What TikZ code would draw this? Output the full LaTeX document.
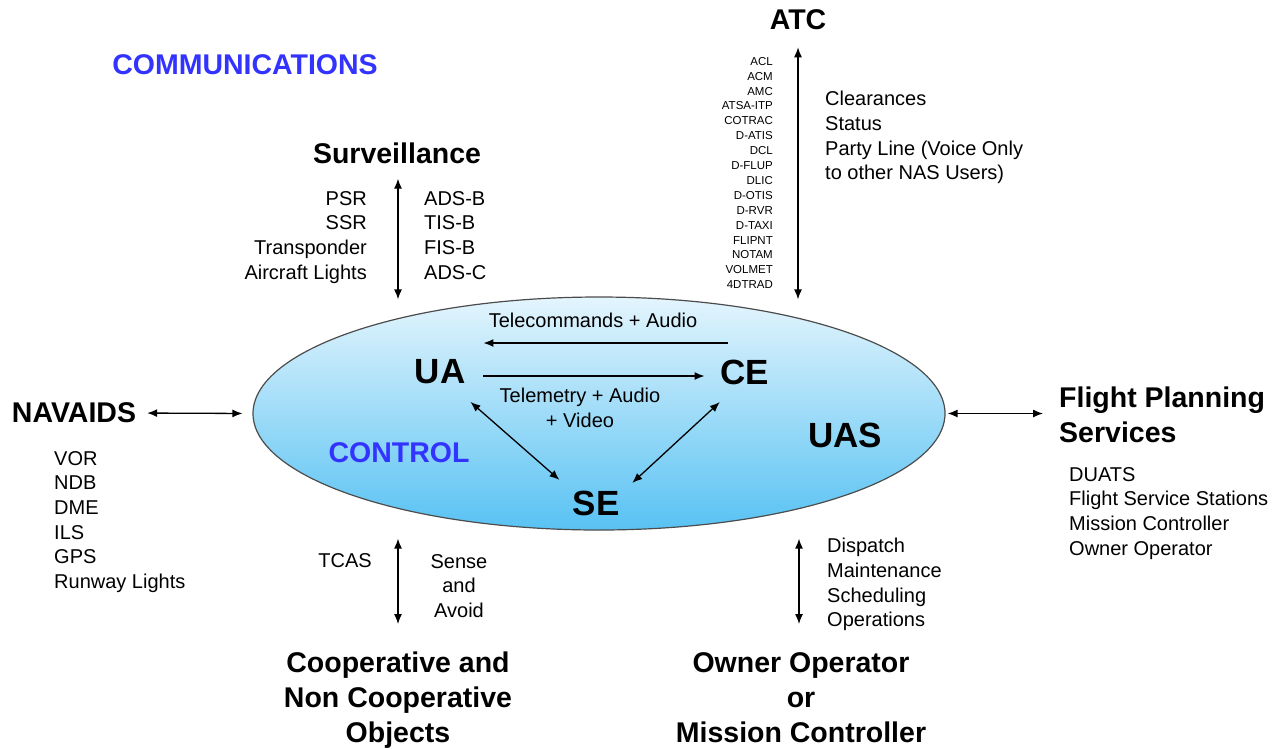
\documentclass[tikz,border=0pt]{standalone}
\usepackage{fontspec}
\setmainfont{Liberation Sans}
\usepackage{xcolor}
\usetikzlibrary{shapes,shapes.geometric,arrows.meta,positioning}

\definecolor{ctrlblue}{RGB}{51,51,255}
\definecolor{uaslight}{RGB}{228,245,253}
\definecolor{uasdark}{RGB}{88,194,243}

\tikzset{
  head/.style={font=\bfseries\fontsize{28.5}{35}\selectfont, inner sep=0pt, align=center},
  bighead/.style={font=\bfseries\fontsize{35}{42}\selectfont, inner sep=0pt},
  txt/.style={font=\fontsize{20}{24.7}\selectfont, inner sep=0pt},
  msglist/.style={font=\fontsize{11.5}{14.9}\selectfont, inner sep=0pt, align=right},
  link/.style={<->, line width=1.3pt},
  oneway/.style={->, line width=1.3pt},
}

\begin{document}
\begin{tikzpicture}[x=1pt, y=-1pt, >={Latex[length=10pt,width=8pt]}]
  \useasboundingbox (0,0) rectangle (1281,748);

  % UAS ellipse
  \node[ellipse, draw=black!70, line width=1.2pt, top color=uaslight, bottom color=uasdark,
        minimum width=692pt, minimum height=233pt, inner sep=0pt] (sys) at (599,413.5) {};

  % Nodes inside
  \node[bighead] (ua) at (440,372) {UA};
  \node[bighead] (ce) at (745,372) {CE};
  \node[bighead] (se) at (596,503) {SE};
  \node[bighead] (uas) at (845,435) {UAS};
  \node[head, text=ctrlblue] (control) at (399,453) {CONTROL};
  \node[txt] (tc) at (593,320) {Telecommands + Audio};
  \node[txt, align=center, anchor=north] (tm) at (580,388) {Telemetry + Audio\\+ Video};

  % Links inside
  \draw[oneway, shorten <=-7pt, shorten >=18pt] ([yshift=29pt]ce.west) -- ([yshift=29pt]ua.east);
  \draw[oneway, shorten <=18pt, shorten >=16pt] ([yshift=-4pt]ua.east) -- ([yshift=-4pt]ce.west);
  \draw[link] ([shift={(5pt,-17.5pt)}]ua.south east) -- ([shift={(-13pt,10.5pt)}]se.north west);
  \draw[link] ([shift={(-0.7pt,-17.5pt)}]ce.south west) -- ([shift={(12.7pt,7.5pt)}]se.north east);

  % Outside nodes
  \node[head, text=ctrlblue] (comm) at (245,65) {COMMUNICATIONS};
  \node[head] (atc) at (798,20) {ATC};
  \node[msglist, anchor=north east] (msgs) at (773,57)
    {ACL\\ACM\\AMC\\ATSA-ITP\\COTRAC\\D-ATIS\\DCL\\D-FLUP\\DLIC\\D-OTIS\\D-RVR\\D-TAXI\\FLIPNT\\NOTAM\\VOLMET\\4DTRAD};
  \node[txt, align=left, anchor=north west] (atcinfo) at (825,91)
    {Clearances\\Status\\Party Line (Voice Only\\to other NAS Users)};

  \node[head] (surv) at (397,153) {Surveillance};
  \node[txt, align=right, anchor=north east] (survl) at (367,191) {PSR\\SSR\\Transponder\\Aircraft Lights};
  \node[txt, align=left, anchor=north west] (survr) at (424,191) {ADS-B\\TIS-B\\FIS-B\\ADS-C};

  \node[head] (nav) at (74,413) {NAVAIDS};
  \node[txt, align=left, anchor=north west] (navl) at (54,451) {VOR\\NDB\\DME\\ILS\\GPS\\Runway Lights};

  \node[head, align=left, anchor=north west] (fps) at (1059,387) {Flight Planning\\Services};
  \node[txt, align=left, anchor=north west] (fpsl) at (1069,467)
    {DUATS\\Flight Service Stations\\Mission Controller\\Owner Operator};

  \node[head, anchor=north] (coop) at (398,652) {Cooperative and\\Non Cooperative\\Objects};
  \node[txt, anchor=east] (tcas) at (372,561) {TCAS};
  \node[txt, align=center, anchor=north] (saa) at (459,554) {Sense\\and\\Avoid};

  \node[head, anchor=north] (owner) at (801,652) {Owner Operator\\or\\Mission Controller};
  \node[txt, align=left, anchor=north west] (ops) at (827,538) {Dispatch\\Maintenance\\Scheduling\\Operations};

  % Links outside
  \draw[link, shorten <=17pt, shorten >=-3pt] (atc.south) -- (atc.south |- sys.north);
  \draw[link, shorten <=15pt, shorten >=-3pt] ([xshift=1pt]surv.south) -- ([xshift=1pt]surv.south |- sys.north);
  \draw[link, shorten <=11pt, shorten >=10pt] (nav.east) -- (sys.west);
  \draw[link, shorten <=2pt, shorten >=16pt] (sys.east) -- (fps.west |- sys.east);
  \draw[link, shorten <=28pt, shorten >=8pt] (coop.north) -- (coop.north |- sys.south);
  \draw[link, shorten <=28pt, shorten >=8pt] ([xshift=-2pt]owner.north) -- ([xshift=-2pt]owner.north |- sys.south);

\end{tikzpicture}
\end{document}
